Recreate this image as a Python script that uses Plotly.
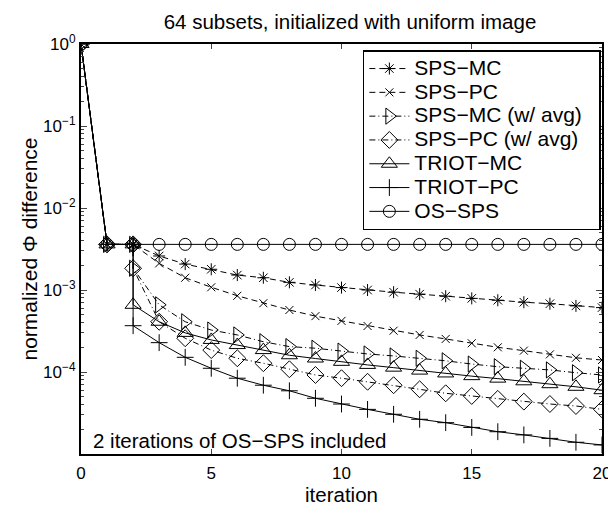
import plotly.graph_objects as go

# iterations: 0, 1, 2 are shared OS-SPS iterations, then each method restarts at 2
shared_x = [0, 1, 2]
shared_y = [1.0, 3.6e-3, 3.6e-3]
method_x = [2, 3, 4, 5, 6, 7, 8, 9, 10, 11, 12, 13, 14, 15, 16, 17, 18, 19, 20]

os_sps_x = [0, 1, 2, 3, 4, 5, 6, 7, 8, 9, 10, 11, 12, 13, 14, 15, 16, 17, 18, 19, 20]
os_sps = [1.0, 3.6e-3, 3.6e-3, 3.6e-3, 3.6e-3, 3.6e-3, 3.6e-3, 3.6e-3, 3.6e-3, 3.6e-3,
          3.6e-3, 3.6e-3, 3.6e-3, 3.6e-3, 3.6e-3, 3.6e-3, 3.6e-3, 3.6e-3, 3.6e-3, 3.6e-3, 3.6e-3]

sps_mc = [3.6e-3, 2.6e-3, 2.07e-3, 1.79e-3, 1.52e-3, 1.41e-3, 1.24e-3, 1.15e-3, 1.07e-3, 1.0e-3,
          9.4e-4, 8.9e-4, 8.4e-4, 7.9e-4, 7.5e-4, 7.1e-4, 6.8e-4, 6.4e-4, 6.1e-4]
sps_pc = [3.6e-3, 2.11e-3, 1.41e-3, 1.08e-3, 8.5e-4, 6.9e-4, 5.7e-4, 4.8e-4, 4.2e-4, 3.64e-4,
          3.19e-4, 2.83e-4, 2.53e-4, 2.24e-4, 2.0e-4, 1.82e-4, 1.64e-4, 1.49e-4, 1.40e-4]
sps_mc_avg = [1.84e-3, 6.6e-4, 4.1e-4, 3.25e-4, 2.83e-4, 2.34e-4, 2.04e-4, 1.95e-4, 1.80e-4, 1.66e-4,
              1.57e-4, 1.47e-4, 1.37e-4, 1.25e-4, 1.16e-4, 1.11e-4, 1.06e-4, 9.8e-5, 9.2e-5]
sps_pc_avg = [1.84e-3, 4.1e-4, 2.58e-4, 1.85e-4, 1.47e-4, 1.28e-4, 1.08e-4, 9.2e-5, 8.4e-5, 7.6e-5,
              6.9e-5, 6.15e-5, 5.5e-5, 5.1e-5, 4.7e-5, 4.35e-5, 4.07e-5, 3.85e-5, 3.5e-5]
triot_mc = [6.6e-4, 4.1e-4, 3.0e-4, 2.46e-4, 2.13e-4, 1.85e-4, 1.6e-4, 1.46e-4, 1.33e-4, 1.22e-4,
            1.13e-4, 1.04e-4, 9.6e-5, 8.9e-5, 8.3e-5, 7.7e-5, 7.1e-5, 6.6e-5, 6.0e-5]
triot_pc = [3.67e-4, 2.28e-4, 1.51e-4, 1.11e-4, 8.4e-5, 6.9e-5, 5.9e-5, 4.78e-5, 4.07e-5, 3.5e-5,
            3.05e-5, 2.65e-5, 2.41e-5, 2.11e-5, 1.87e-5, 1.71e-5, 1.55e-5, 1.39e-5, 1.29e-5]

x_ticks = [0, 5, 10, 15, 20]
y_tickvals = [1, 1e-1, 1e-2, 1e-3, 1e-4]
y_ticktext = ["10<sup>0</sup>", "10<sup>\u22121</sup>", "10<sup>\u22122</sup>",
              "10<sup>\u22123</sup>", "10<sup>\u22124</sup>"]

FONT = "Liberation Sans, Arial, Helvetica, sans-serif"


def big(s):
    # larger text inside a legend whose row height follows a smaller base font
    return '<span style="font-size:21px">' + s + '\u00a0\u00a0</span>'


series = [
    ("SPS\u2212MC", sps_mc, "6px,4px", "asterisk-open", 10),
    ("SPS\u2212PC", sps_pc, "6px,4px", "x-thin-open", 8),
    ("SPS\u2212MC (w/ avg)", sps_mc_avg, "6px,3px,1px,3px", "triangle-right-open", 14),
    ("SPS\u2212PC (w/ avg)", sps_pc_avg, "6px,3px,1px,3px", "diamond-open", 13),
    ("TRIOT\u2212MC", triot_mc, "solid", "triangle-up-open", 14),
    ("TRIOT\u2212PC", triot_pc, "solid", "cross-thin-open", 12),
]

fig = go.Figure()
for name, vals, dash, sym, size in series:
    fig.add_trace(go.Scatter(
        x=shared_x + method_x, y=shared_y + vals, name=big(name), mode="lines+markers",
        line=dict(color="black", width=1, dash=dash),
        marker=dict(symbol=sym, size=size, color="black", line=dict(color="black", width=1)),
    ))
fig.add_trace(go.Scatter(
    x=os_sps_x, y=os_sps, name=big("OS\u2212SPS"), mode="lines+markers",
    line=dict(color="black", width=1),
    marker=dict(symbol="circle-open", size=12, color="black", line=dict(color="black", width=1)),
))

# page body has an 8px margin: the figure is 8px smaller so it ends at the window edge
fig.update_layout(
    width=608, height=498,
    margin=dict(l=73, r=14, t=36, b=52),
    paper_bgcolor="white", plot_bgcolor="white",
    font=dict(family=FONT, size=17, color="black"),
    title=dict(text="64 subsets, initialized with uniform image", x=0.5625, xanchor="center",
               y=1 - 14 / 498, yanchor="middle", font=dict(size=20.5)),
    showlegend=True,
    legend=dict(x=0.541, y=0.985, xanchor="left", yanchor="top",
                bordercolor="black", borderwidth=1.5, bgcolor="white",
                font=dict(size=16), itemwidth=40, tracegroupgap=0),
    annotations=[dict(text="2 iterations of OS\u2212SPS included", xref="paper", yref="paper",
                      x=0.02, y=0.0, xanchor="left", yanchor="bottom", showarrow=False,
                      font=dict(size=20.5))],
)
fig.update_xaxes(range=[0, 20], tickvals=x_ticks, ticks="inside", ticklen=5, tickwidth=1,
                 showline=True, linecolor="black", linewidth=2, mirror="allticks",
                 showgrid=False, zeroline=False, automargin=False, ticklabelstandoff=3,
                 title=dict(text="iteration", standoff=0, font=dict(size=20.5)),
                 tickfont=dict(size=17))
fig.update_yaxes(type="log", range=[-5, 0], tickvals=y_tickvals, ticktext=y_ticktext,
                 ticks="inside", ticklen=6, tickwidth=1,
                 minor=dict(ticks="inside", ticklen=3, tickwidth=1, dtick="D1", showgrid=False),
                 showline=True, linecolor="black", linewidth=2, mirror="allticks",
                 showgrid=False, zeroline=False, automargin=False,
                 title=dict(text="normalized \u03a6 difference", standoff=0, font=dict(size=21)),
                 tickfont=dict(size=17))

fig.write_html("out.html")
